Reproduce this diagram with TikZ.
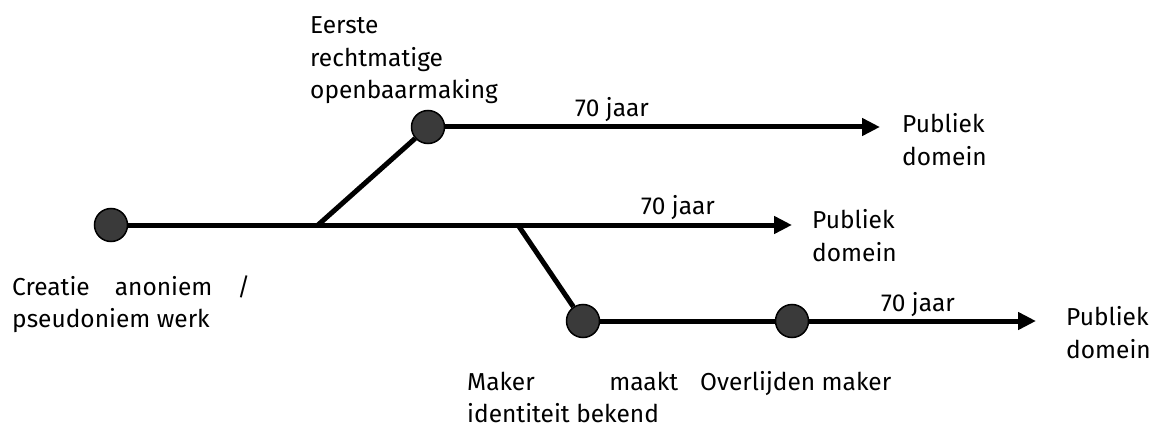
\documentclass[tikz,border=0pt]{standalone}
\usepackage{fontspec}
\setmainfont{Fira Sans}
\usetikzlibrary{arrows.meta,positioning}
\definecolor{ink}{HTML}{000000}
\definecolor{dot}{HTML}{3A3A3A}
\hyphenpenalty=10000
\exhyphenpenalty=10000
\tikzset{
  >={Triangle[length=18pt,width=17pt]},
  timeline/.style={->,line width=5pt,draw=ink},
  branch/.style={line width=5pt,draw=ink},
  event/.style={circle,draw=ink,line width=1.5pt,fill=dot,minimum size=33pt,inner sep=0pt},
  lbl/.style={font=\fontsize{24.5}{32.5}\selectfont,inner sep=0pt,anchor=base west,align=left},
  jlbl/.style={lbl,align=justify}
}

\begin{document}
\begin{tikzpicture}[x=1pt,y=-1pt]
  \useasboundingbox (0,0) rectangle (1162,425);
  \node[event] (cre) at (111,225) {};
  \node[event] (pub) at (428,127) {};
  \node[event] (idt) at (583,321) {};
  \node[event] (dth) at (792,321) {};
  \coordinate (f1) at (318,225);
  \coordinate (f2) at (518,225);
  \coordinate (e1) at (880,127);
  \coordinate (e2) at (792,225);
  \coordinate (e3) at (1036,321);
  \draw[timeline] (cre) -- (e2);
  \draw[branch] (f1) -- (pub);
  \draw[timeline] (pub) -- (e1);
  \draw[branch] (f2) -- (idt);
  \draw[branch] (idt) -- (dth);
  \draw[timeline] (dth) -- (e3);
  % base of a multi-line label is its last line
  \node[lbl] (y1) at (575,117) {70 jaar};
  \node[lbl] (y2) at (641,214) {70 jaar};
  \node[lbl] (y3) at (881,311) {70 jaar};
  \node[lbl] (pd1) at (902,165) {Publiek\\domein};
  \node[lbl] (pd2) at (812,261) {Publiek\\domein};
  \node[lbl] (pd3) at (1066,358) {Publiek\\domein};
  \node[lbl] (eerste) at (310,99) {Eerste\\rechtmatige\\openbaarmaking};
  % justified ones sit on their first line
  \node[jlbl,text width=238pt] (creatie) at (12,295) {Creatie anoniem / pseudoniem werk};
  \node[jlbl,text width=211pt] (maker) at (467,390) {Maker maakt identiteit bekend};
  \node[lbl] (overl) at (700,390) {Overlijden maker};
\end{tikzpicture}
\end{document}
